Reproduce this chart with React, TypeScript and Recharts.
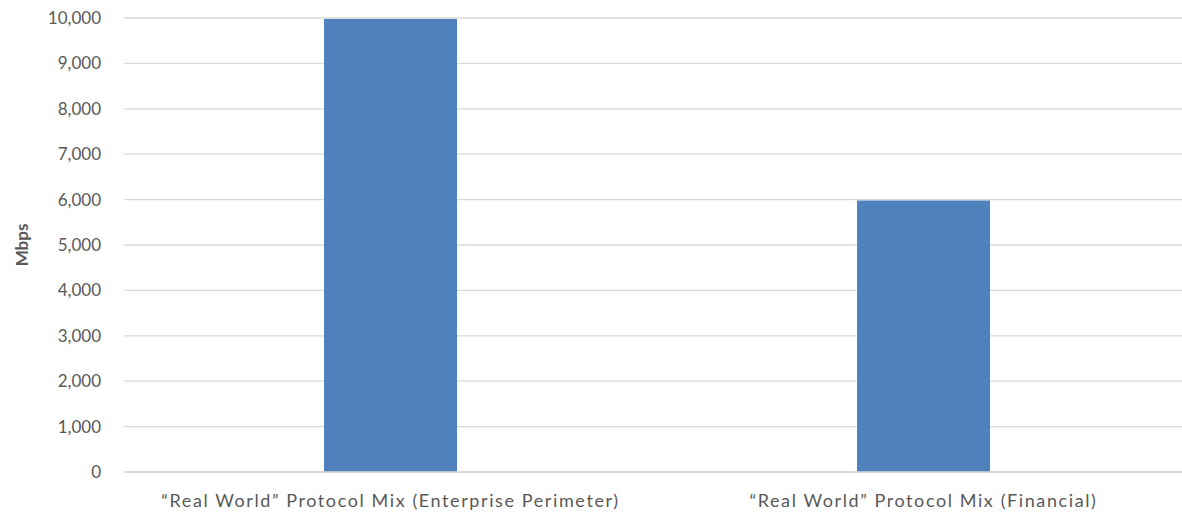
import { BarChart, Bar, XAxis, YAxis, CartesianGrid, Label } from "recharts";

const categories = [
  "\u201CReal World\u201D Protocol Mix (Enterprise Perimeter)",
  "\u201CReal World\u201D Protocol Mix (Financial)",
];
const mbps = [9980, 5980];
const yTicks = [0, 1000, 2000, 3000, 4000, 5000, 6000, 7000, 8000, 9000, 10000];

const data = categories.map((name, i) => ({ name, value: mbps[i] }));

const font = "Lato, 'Open Sans', sans-serif";

export default function App() {
  return (
    <div style={{ position: "absolute", left: 0, top: 0, width: 1182, height: 517, background: "#fff", overflow: "hidden" }}>
      <BarChart
        width={1190}
        height={517}
        data={data}
        margin={{ top: 18, right: 0, bottom: 0, left: 0 }}
        barSize={133}
      >
        <CartesianGrid vertical={false} stroke="#d9d9d9" strokeWidth={1.3} />
        <XAxis
          dataKey="name"
          height={45}
          tickLine={false}
          tickSize={0}
          tickMargin={22}
          axisLine={{ stroke: "#d9d9d9", strokeWidth: 1.3 }}
          tick={{ fill: "#595959", fontSize: 18, fontFamily: font, letterSpacing: 1.6 }}
        />
        <YAxis
          width={124}
          domain={[0, 10000]}
          ticks={yTicks}
          interval={0}
          axisLine={false}
          tickLine={false}
          tickSize={0}
          tickMargin={23}
          tickFormatter={(v: number) => v.toLocaleString("en-US")}
          tick={{ fill: "#595959", fontSize: 17, fontFamily: font }}
        >
          <Label
            value="Mbps"
            angle={-90}
            position="insideLeft"
            offset={22}
            style={{ fill: "#595959", fontSize: 17, fontWeight: 700, fontFamily: font, textAnchor: "middle" }}
          />
        </YAxis>
        <Bar dataKey="value" fill="#4f81bd" isAnimationActive={false} />
      </BarChart>
    </div>
  );
}
